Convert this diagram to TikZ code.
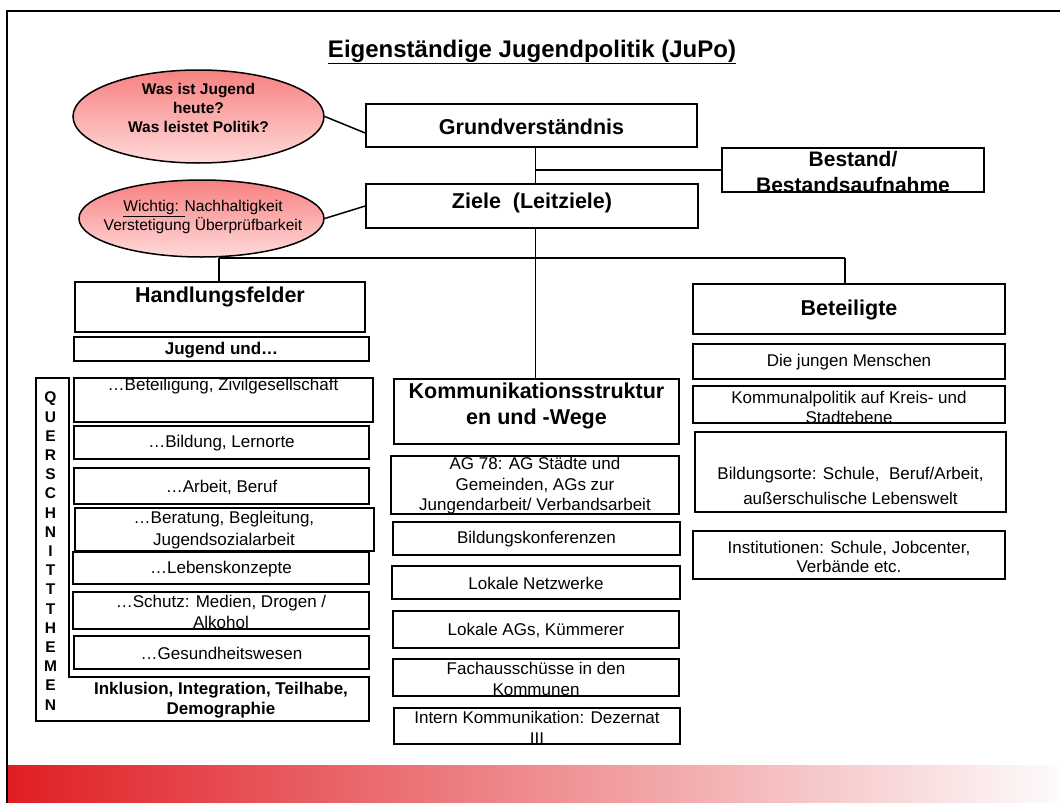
\documentclass[tikz,border=0pt]{standalone}
\usepackage{fontspec}
\setmainfont{Liberation Sans}
\usetikzlibrary{shapes.geometric}
\definecolor{ellTop}{RGB}{247,128,128}
\definecolor{ellBot}{RGB}{255,218,218}
\definecolor{bandL}{RGB}{224,30,36}
\definecolor{bandM}{RGB}{240,192,194}
\definecolor{bandR}{RGB}{253,251,251}
\tikzset{
  box/.style={draw=black, line width=1.6pt, inner sep=0pt},
  ell/.style={ellipse, draw=black, line width=1.5pt, top color=ellTop, bottom color=ellBot, inner sep=0pt},
  txt/.style={font=\fontsize{17}{20.5}\selectfont, align=center, inner sep=0pt},
  btxt/.style={font=\bfseries\fontsize{17}{20}\selectfont, align=center, inner sep=0pt},
  hdr/.style={font=\bfseries\fontsize{21.5}{25.7}\selectfont, align=center, inner sep=0pt},
  conn/.style={draw=black, line width=1.5pt},
}
\begin{document}
\begin{tikzpicture}[x=1pt,y=-1pt]
\useasboundingbox (0,0) rectangle (1060,803);
% frame and band
\shade[left color=bandL, middle color=bandM, right color=bandR] (8,765) rectangle (1060,803);
\draw[line width=2pt] (7,803) -- (7,11) -- (1060,11);
% title
\node[font=\bfseries\fontsize{24}{28}\selectfont, inner sep=0pt] (title) at (532,52) {\underline{Eigenständige Jugendpolitik (JuPo)}};
% ellipses
\node[ell, minimum width=251pt, minimum height=93pt] (e1) at (198.5,116.5) {};
\node[font=\bfseries\fontsize{15.5}{19.3}\selectfont, align=center, inner sep=0pt] (e1t) at (198.5,108) {Was ist Jugend\\heute?\\Was leistet Politik?};
\node[ell, minimum width=245pt, minimum height=77pt] (e2) at (201.5,218.5) {};
\node[font=\fontsize{15.6}{19}\selectfont, align=center, inner sep=0pt] (e2t) at (203,217) {\underline{Wichtig: }Nachhaltigkeit\\Verstetigung Überprüfbarkeit};
% top boxes
\node[box, minimum width=331pt, minimum height=43pt] (grund) at (531.5,125.5) {};
\node[hdr] (grundt) at (531.5,127) {Grundverständnis};
\node[box, minimum width=332pt, minimum height=44pt] (ziele) at (532,206) {};
\node[hdr] (zielet) at (532,203) {Ziele\ \ (Leitziele)};
\node[box, minimum width=262pt, minimum height=44pt] (bestand) at (853,170) {};
\node[hdr, font=\bfseries\fontsize{21}{26}\selectfont] (bestandt) at (853,172) {Bestand/\\Bestandsaufnahme};
% connectors top
\coordinate (spine) at (535.5,0);
\draw[conn] (e1.east) -- ([yshift=-7.5pt]grund.west);
\draw[conn] (e2.east) -- (ziele.west);
\draw[conn] (grund.south -| spine) -- (ziele.north -| spine);
\draw[draw=black, line width=2.6pt] (spine |- bestand.west) -- (bestand.west);
% left column
\node[box, minimum width=290pt, minimum height=50pt] (handl) at (220,307) {};
\node[hdr] (handlt) at (220,297) {Handlungsfelder};
\node[box, minimum width=295pt, minimum height=24pt] (jugund) at (221.5,349) {};
\node[btxt] (jugundt) at (221.5,350) {Jugend und…};
\node[box, minimum width=299pt, minimum height=44pt] (beteilL) at (223.5,400) {};
\node[txt] (beteilLt) at (223,386.5) {…Beteiligung, Zivilgesellschaft};
\node[box, minimum width=295pt, minimum height=33pt] (bildung) at (221.5,442.5) {};
\node[txt] (bildungt) at (221.5,443) {…Bildung, Lernorte};
\node[box, minimum width=295pt, minimum height=36pt] (arbeit) at (221.5,486) {};
\node[txt] (arbeitt) at (221.5,487) {…Arbeit, Beruf};
\node[box, minimum width=299pt, minimum height=43pt] (beratung) at (224.5,529.5) {};
\node[txt, font=\fontsize{17}{21.7}\selectfont] (beratungt) at (224,530) {…Beratung, Begleitung,\\Jugendsozialarbeit};
\node[box, minimum width=296pt, minimum height=32pt] (leben) at (221,568) {};
\node[txt] (lebent) at (221,569) {…Lebenskonzepte};
\node[box, minimum width=296pt, minimum height=37pt] (schutz) at (221,610.5) {};
\node[txt] (schutzt) at (221,612) {…Schutz: Medien, Drogen /\\Alkohol};
\node[box, minimum width=295pt, minimum height=33pt] (gesund) at (221.5,652.5) {};
\node[txt] (gesundt) at (221.5,653) {…Gesundheitswesen};
% Querschnittthemen frame
\draw[line width=1.6pt] (36,378) -- (69,378) -- (69,677) -- (369,677) -- (369,721) -- (36,721) -- cycle;
\node[font=\bfseries\fontsize{15.5}{19.2}\selectfont, align=center, inner sep=0pt] (quert) at (50.5,551)
 {Q\\U\\E\\R\\S\\C\\H\\N\\I\\T\\T\\T\\H\\E\\M\\E\\N};
\node[btxt] (inklt) at (221,700.5) {Inklusion, Integration, Teilhabe,\\Demographie};
% middle column
\node[box, minimum width=285pt, minimum height=65pt] (komm) at (536.5,411.5) {};
\node[hdr] (kommt) at (536.5,406) {Kommunikationsstruktur\\en und -Wege};
\node[box, minimum width=288pt, minimum height=58pt] (ag78) at (535,485) {};
\node[txt] (ag78t) at (535,486) {AG 78: AG Städte und\\Gemeinden, AGs zur\\Jungendarbeit/ Verbandsarbeit};
\node[box, minimum width=287pt, minimum height=33pt] (bildk) at (536.5,538.5) {};
\node[txt] (bildkt) at (536.5,539) {Bildungskonferenzen};
\node[box, minimum width=288pt, minimum height=33pt] (netzw) at (536,582.5) {};
\node[txt] (netzwt) at (536,583) {Lokale Netzwerke};
\node[box, minimum width=286pt, minimum height=37pt] (lokags) at (536,629.5) {};
\node[txt] (lokagst) at (536,630) {Lokale AGs, Kümmerer};
\node[box, minimum width=286pt, minimum height=37pt] (fach) at (536,677.5) {};
\node[txt] (facht) at (536,679) {Fachausschüsse in den\\Kommunen};
\node[box, minimum width=286pt, minimum height=36pt] (intern) at (537,726) {};
\node[txt] (interntt) at (537,728) {Intern Kommunikation: Dezernat\\III};
% right column
\node[box, minimum width=312pt, minimum height=50pt] (betei) at (849,309) {};
\node[hdr] (beteit) at (849,310) {Beteiligte};
\node[box, minimum width=312pt, minimum height=35pt] (junge) at (849,361.5) {};
\node[txt] (junget) at (849,362) {Die jungen Menschen};
\node[box, minimum width=312pt, minimum height=37pt] (kommpol) at (849,404.5) {};
\node[txt, font=\fontsize{17}{20}\selectfont] (kommpolt) at (849,407) {Kommunalpolitik auf Kreis- und\\Stadtebene};
\node[box, minimum width=311pt, minimum height=80pt] (bildorte) at (850.5,472) {};
\node[txt, font=\fontsize{17}{25.6}\selectfont] (bildortet) at (850.5,486) {Bildungsorte: Schule,\ \ Beruf/Arbeit,\\außerschulische Lebenswelt};
\node[box, minimum width=312pt, minimum height=48pt] (instit) at (849,555) {};
\node[txt, font=\fontsize{17}{19.5}\selectfont] (instit-t) at (849,557) {Institutionen: Schule, Jobcenter,\\Verbände etc.};
% lower connectors
\coordinate (hl) at (219,258);
\coordinate (hr) at (845,258);
\draw[conn] (ziele.south -| spine) -- (komm.north -| spine);
\draw[draw=black, line width=2pt] (hl) -- (hr);
\draw[conn] (hl) -- (hl |- handl.north);
\draw[conn] (hr) -- (hr |- betei.north);
\end{tikzpicture}
\end{document}
